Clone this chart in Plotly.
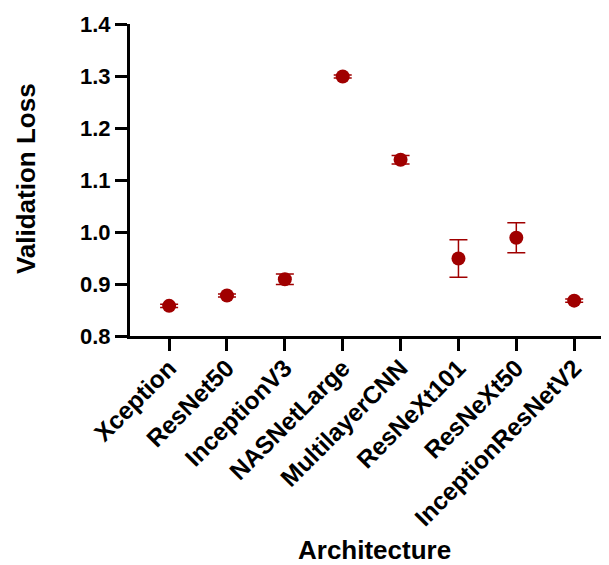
import plotly.graph_objects as go

architectures = ["Xception", "ResNet50", "InceptionV3", "NASNetLarge",
                 "MultilayerCNN", "ResNeXt101", "ResNeXt50", "InceptionResNetV2"]
val_loss = [0.858, 0.878, 0.909, 1.299, 1.139, 0.949, 0.989, 0.868]
val_err = [0.003, 0.003, 0.010, 0.003, 0.008, 0.036, 0.029, 0.003]
y_ticks = [0.8, 0.9, 1.0, 1.1, 1.2, 1.3, 1.4]
y_tick_text = ["0.8", "0.9", "1.0", "1.1", "1.2", "1.3", "1.4"]
x_title = "Architecture"
y_title = "Validation Loss"

color = "#A00000"
font_family = "Liberation Sans, Arial, sans-serif"

fig = go.Figure()
fig.add_trace(go.Scatter(
    x=architectures, y=val_loss, mode="markers",
    marker=dict(size=14, color=color),
    error_y=dict(type="data", array=val_err, visible=True,
                 color=color, thickness=1.5, width=9),
    showlegend=False, cliponaxis=False,
))

fig.update_layout(
    width=609, height=565,
    margin=dict(l=122, r=0, t=16, b=237),
    plot_bgcolor="white", paper_bgcolor="white",
    font=dict(family=font_family, color="black", size=21, weight="bold"),
    xaxis=dict(
        type="category", range=[-0.676, 7.74], automargin=False,
        showline=True, linecolor="black", linewidth=3,
        ticks="outside", ticklen=12, tickwidth=3, tickcolor="black",
        tickangle=-45, showgrid=False, zeroline=False, ticklabelstandoff=-7,
        tickfont=dict(size=24.5, family=font_family, weight="bold"),
    ),
    yaxis=dict(
        range=[0.8, 1.4], tickvals=y_ticks, ticktext=y_tick_text, automargin=False,
        showline=True, linecolor="black", linewidth=3,
        ticks="outside", ticklen=12, tickwidth=3, tickcolor="black",
        showgrid=False, zeroline=False,
        tickfont=dict(size=22, family=font_family, weight="bold"),
    ),
    annotations=[
        dict(text=x_title, xref="paper", yref="paper", x=0.503, y=-0.739,
             xanchor="center", yanchor="bottom", showarrow=False,
             font=dict(size=26, family=font_family, weight="bold")),
        dict(text=y_title, xref="paper", yref="paper", x=-0.2135, y=0.503,
             xanchor="center", yanchor="middle", showarrow=False, textangle=-90,
             font=dict(size=26, family=font_family, weight="bold")),
    ],
)

fig.write_html("out.html")
